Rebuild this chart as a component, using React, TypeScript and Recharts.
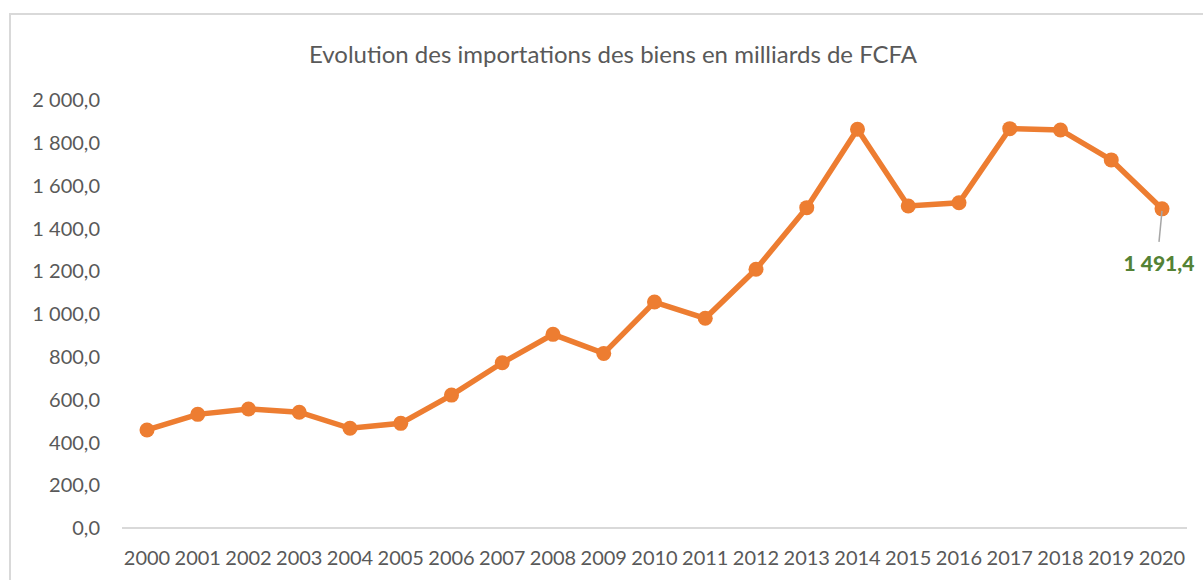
import React from 'react';
import { LineChart, Line, XAxis, YAxis, LabelList } from 'recharts';

const years = [
  '2000', '2001', '2002', '2003', '2004', '2005', '2006', '2007', '2008', '2009', '2010',
  '2011', '2012', '2013', '2014', '2015', '2016', '2017', '2018', '2019', '2020',
];
const imports = [
  458, 531, 556, 541, 466, 489, 621, 772, 905, 816, 1056,
  980, 1209, 1497, 1863, 1505, 1520, 1866, 1860, 1720, 1491.4,
];
const yTicks = [0, 200, 400, 600, 800, 1000, 1200, 1400, 1600, 1800, 2000];

const data = years.map((year, i) => ({ year, value: imports[i] }));

const FONT = 'Lato, "Open Sans", sans-serif';

// 1491.4 -> "1 491,4"
const frNumber = (v: number) => {
  const [int, dec] = v.toFixed(1).split('.');
  return int.replace(/\B(?=(\d{3})+(?!\d))/g, ' ') + ',' + dec;
};

// only the last point gets a label, with a small leader line
const LastLabel = (props: any) => {
  const { x, y, index, value } = props;
  if (index !== imports.length - 1) return null;
  return (
    <g>
      <line x1={x} y1={y + 2} x2={x - 3} y2={y + 33} stroke="#a6a6a6" strokeWidth={1.5} />
      <text
        x={x - 3}
        y={y + 54}
        textAnchor="middle"
        dominantBaseline="central"
        fill="#548235"
        fontWeight={900}
        fontSize={21}
        fontFamily={FONT}
      >
        {frNumber(value)}
      </text>
    </g>
  );
};

export default function App() {
  return (
    <div style={{ position: 'absolute', left: 0, top: 0, width: 1203, height: 580, overflow: 'hidden', background: '#fff' }}>
      <div
        style={{
          position: 'absolute', left: 9, top: 13, width: 1400, height: 800,
          border: '2px solid #d9d9d9', boxSizing: 'border-box',
        }}
      />
      <div
        style={{
          position: 'absolute', left: 0, top: 39, width: 1226, textAlign: 'center',
          fontFamily: FONT, fontSize: 24, color: '#595959',
        }}
      >
        Evolution des importations des biens en milliards de FCFA
      </div>
      <div style={{ position: 'absolute', left: 0, top: 0 }}>
        <LineChart width={1203} height={580} data={data} margin={{ top: 100, right: 16, bottom: 0, left: 0 }}>
          <XAxis
            dataKey="year"
            interval={0}
            padding={{ left: 25, right: 25 }}
            tickLine={false}
            tickSize={0}
            tickMargin={23}
            height={52}
            axisLine={{ stroke: '#d9d9d9', strokeWidth: 2 }}
            tick={{ fill: '#595959', fontSize: 20, fontFamily: FONT }}
          />
          <YAxis
            domain={[0, 2000]}
            ticks={yTicks}
            width={122}
            axisLine={false}
            tickLine={false}
            tickSize={0}
            tickMargin={22}
            tickFormatter={frNumber}
            tick={{ fill: '#595959', fontSize: 20, fontFamily: FONT }}
          />
          <Line
            type="linear"
            dataKey="value"
            stroke="#ED7D31"
            strokeWidth={5.5}
            dot={{ r: 7.5, fill: '#ED7D31', stroke: 'none' }}
            isAnimationActive={false}
          >
            <LabelList dataKey="value" content={LastLabel} />
          </Line>
        </LineChart>
      </div>
    </div>
  );
}
